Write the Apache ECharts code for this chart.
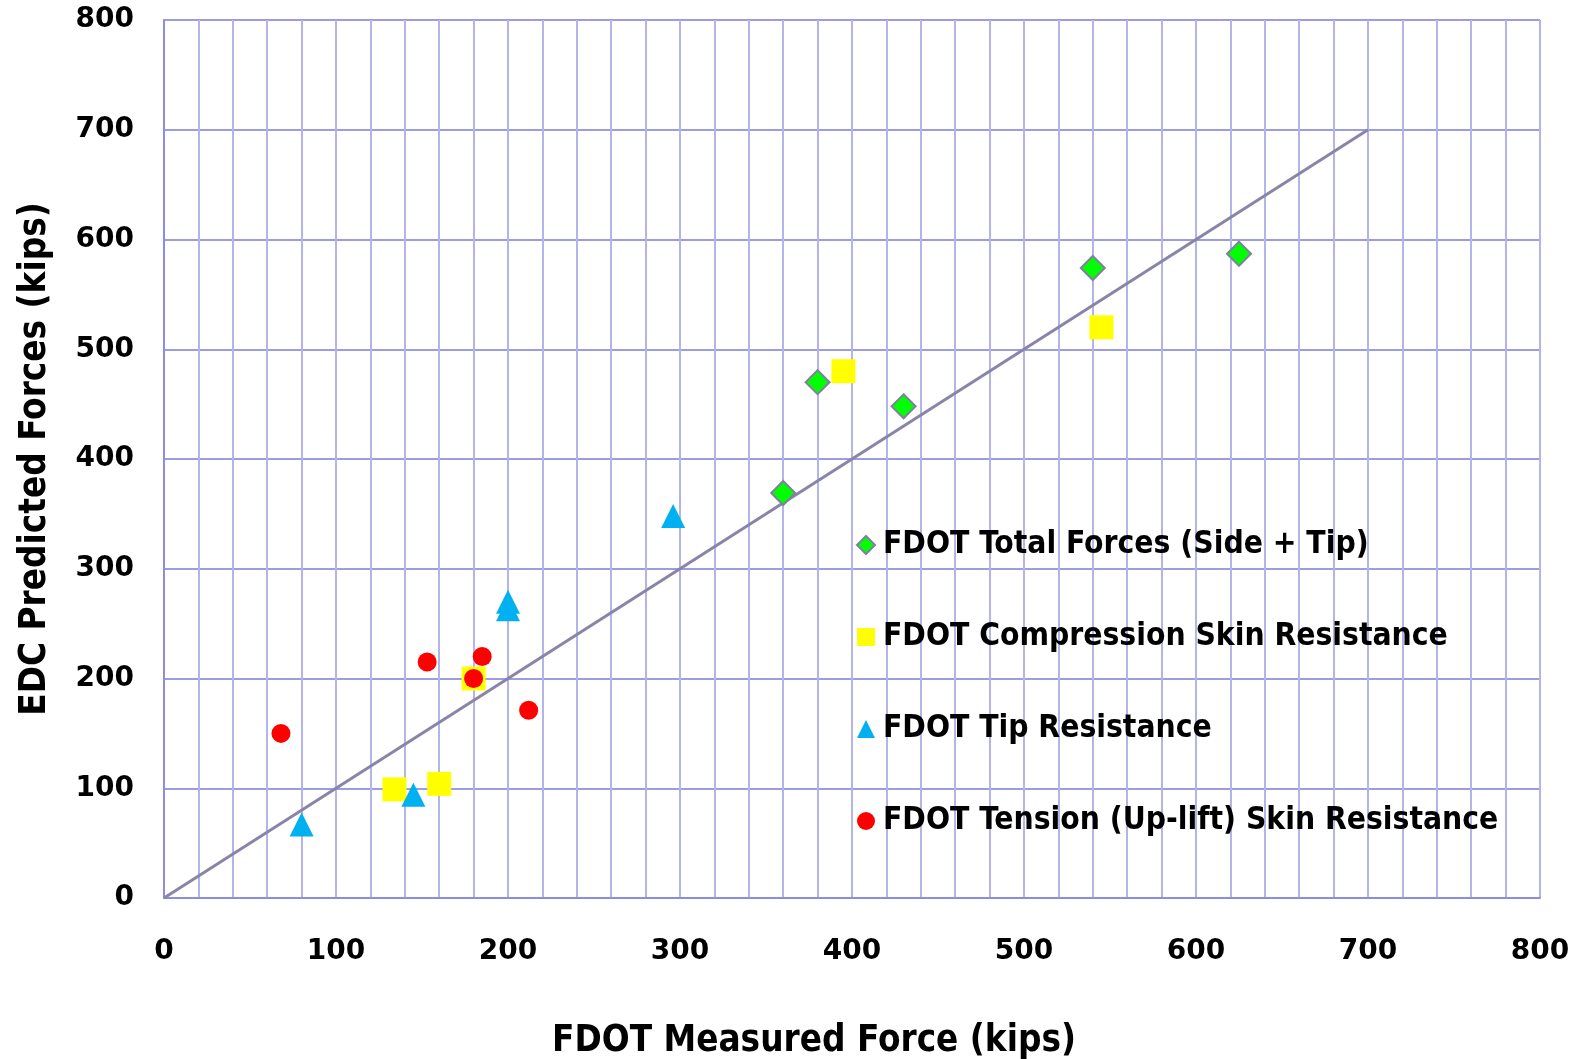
<!DOCTYPE html>
<html>
<head>
<meta charset="utf-8">
<script src="https://cdn.jsdelivr.net/npm/echarts@6/dist/echarts.min.js"></script>
<style>html,body{margin:0;padding:0;background:#fff;}#c{width:1587px;height:1059px;}</style>
</head>
<body>
<div id="c"></div>
<script>
var xTicks = [0, 100, 200, 300, 400, 500, 600, 700, 800];
var yTicks = [0, 100, 200, 300, 400, 500, 600, 700, 800];
var seriesNames = ['FDOT Total Forces (Side + Tip)', 'FDOT Compression Skin Resistance', 'FDOT Tip Resistance', 'FDOT Tension (Up-lift) Skin Resistance'];
var totalForces = [[360, 369], [380, 470], [430, 448], [540, 574], [625, 587]];
var compressionSkin = [[134, 99], [160, 104], [180, 200], [395, 480], [545, 520]];
var tipResistance = [[80, 67], [145, 94], [200, 263], [200, 270], [296, 348]];
var tensionSkin = [[68, 150], [153, 215], [180, 200], [185, 220], [212, 171]];
var equalityLine = [[0, 0], [700, 700]];

var chart = echarts.init(document.getElementById('c'));
var tickFont = {color: '#000', fontFamily: 'DejaVu Sans', fontWeight: 'bold', fontSize: 28};
chart.setOption({
  animation: false,
  backgroundColor: '#fff',
  grid: {left: 164, top: 20, width: 1376, height: 878, containLabel: false},
  xAxis: {
    type: 'value', min: 0, max: 800, interval: 100,
    axisLine: {show: true, lineStyle: {color: '#8c8ce6', width: 2}},
    axisTick: {show: false},
    axisLabel: Object.assign({margin: 40, formatter: function(v){return xTicks.indexOf(v) >= 0 ? String(v) : '';}}, tickFont),
    splitLine: {show: true, lineStyle: {color: '#b4b4e8', width: 2}},
    minorTick: {show: false, splitNumber: 5},
    minorSplitLine: {show: true, lineStyle: {color: '#b4b4e8', width: 2}}
  },
  yAxis: {
    type: 'value', min: 0, max: 800, interval: 100,
    axisLine: {show: true, lineStyle: {color: '#8c8ce6', width: 2}},
    axisTick: {show: false},
    axisLabel: Object.assign({margin: 30, formatter: function(v){return yTicks.indexOf(v) >= 0 ? String(v) : '';}}, tickFont),
    splitLine: {show: true, lineStyle: {color: '#9c9ce2', width: 2}}
  },
  legend: {
    orient: 'vertical', left: 851, top: 524,
    itemWidth: 18, itemHeight: 18, itemGap: 60,
    data: seriesNames,
    textStyle: {color: '#000', fontFamily: 'DejaVu Sans Condensed', fontWeight: 'bold', fontSize: 31.5, padding: [0, 0, 0, 3]}
  },
  graphic: [
    {type: 'text', x: 814, y: 1042, style: {text: 'FDOT Measured Force (kips)', x: 0, y: 0, textAlign: 'center', textVerticalAlign: 'middle', fill: '#000', font: 'bold 36.5px "DejaVu Sans Condensed"'}},
    {type: 'text', x: 36, y: 459, rotation: Math.PI / 2, style: {text: 'EDC Predicted Forces (kips)', x: 0, y: 0, textAlign: 'center', textVerticalAlign: 'middle', fill: '#000', font: 'bold 36.5px "DejaVu Sans Condensed"'}}
  ],
  series: [
    {type: 'line', data: equalityLine, symbol: 'none', silent: true, lineStyle: {color: '#8a84a8', width: 3}, z: 1},
    {name: seriesNames[0], type: 'scatter', data: totalForces, symbol: 'diamond', symbolSize: 24, itemStyle: {color: '#00ff00', borderColor: '#8080a0', borderWidth: 2, opacity: 1}, z: 2},
    {name: seriesNames[1], type: 'scatter', data: compressionSkin, symbol: 'rect', symbolSize: 24, itemStyle: {color: '#ffff00', opacity: 1}, z: 3},
    {name: seriesNames[2], type: 'scatter', data: tipResistance, symbol: 'triangle', symbolSize: 24, itemStyle: {color: '#00b0f0', opacity: 1}, z: 4},
    {name: seriesNames[3], type: 'scatter', data: tensionSkin, symbol: 'circle', symbolSize: 19, itemStyle: {color: '#ff0000', opacity: 1}, z: 5}
  ]
});
</script>
</body>
</html>
